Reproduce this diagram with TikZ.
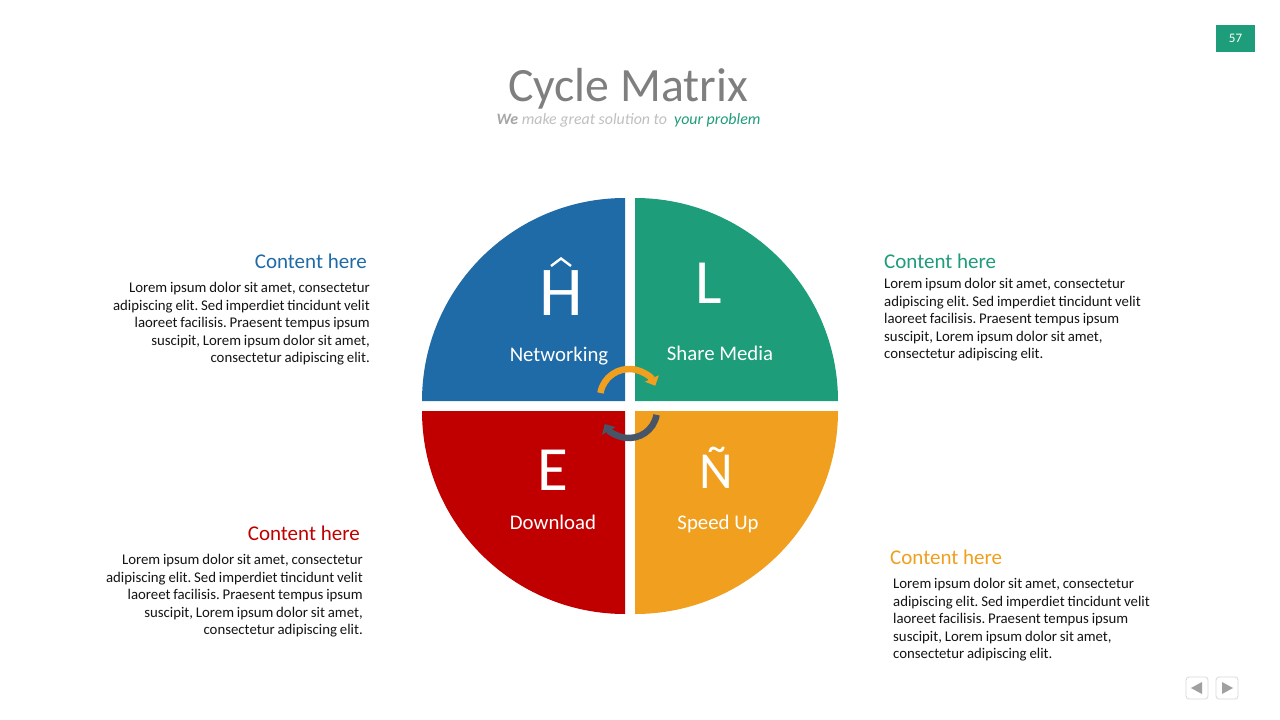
\documentclass[tikz,border=0pt]{standalone}
\usepackage{fontspec}
\setmainfont{Carlito}
\usetikzlibrary{arrows.meta}
\frenchspacing
\definecolor{cblue}{RGB}{30,107,167}
\definecolor{cgreen}{RGB}{30,157,122}
\definecolor{cred}{RGB}{192,0,0}
\definecolor{corange}{RGB}{240,160,30}
\definecolor{carrow}{RGB}{72,84,104}
\definecolor{ctitle}{RGB}{127,127,127}
\definecolor{csub}{RGB}{191,191,191}
\definecolor{cwe}{RGB}{166,166,166}
\definecolor{cbody}{RGB}{20,20,20}
\definecolor{cnav}{RGB}{217,217,217}
\definecolor{cnavtri}{RGB}{160,160,160}
\newcommand{\mybodyfont}{\fontsize{14.8}{17.55}\selectfont\frenchspacing\spaceskip=0.19em plus 0.1em minus 0.05em\relax}
\tikzset{
  heading/.style={inner sep=0pt, font=\fontsize{21}{25}\selectfont},
  bodytxt/.style={inner sep=0pt, text=cbody, font=\mybodyfont},
  qlabel/.style={inner sep=0pt, text=white, font=\fontsize{20.8}{24}\selectfont, anchor=base},
  icon/.style={inner sep=0pt, text=white, anchor=base},
  cyc/.style={line width=6.5pt, -{Triangle[length=8pt,width=15pt]}},
  navbox/.style={draw=cnav, line width=0.8pt, rounded corners=3pt, minimum size=22pt, inner sep=0pt},
}
\begin{document}
\begin{tikzpicture}[x=1pt,y=-1pt]
\useasboundingbox (0,0) rectangle (1280,720);
\fill[white] (0,0) rectangle (1280,720);
% page number
\node[fill=cgreen, text=white, minimum width=39pt, minimum height=27pt, inner sep=0pt, font=\fontsize{13}{15}\selectfont] (pnum) at (1235.5,38.5) {57};
% title
\node[anchor=base, inner sep=0pt, text=ctitle, font=\fontsize{47.8}{52}\selectfont] (title) at (628,101) {Cycle Matrix};
\node[anchor=base, inner sep=0pt, font=\fontsize{15.9}{18}\selectfont\itshape] (subtitle) at (628.5,124)
  {\textcolor{cwe}{\bfseries We} \textcolor{csub}{make great solution to}\ \ \textcolor{cgreen}{your problem}};
% quadrants
\fill[cblue] (625,401) -- ++(-203,0) arc[start angle=180,end angle=270,radius=203] -- cycle;
\fill[cgreen] (635,401) -- ++(0,-203) arc[start angle=270,end angle=360,radius=203] -- cycle;
\fill[cred] (625,411) -- ++(0,203) arc[start angle=90,end angle=180,radius=203] -- cycle;
\fill[corange] (635,411) -- ++(203,0) arc[start angle=0,end angle=90,radius=203] -- cycle;
% icons
\node[icon, font=\fontsize{70}{70}\selectfont] (iconH) at (561,315) {H};
\draw[white, line width=2.4pt, line join=miter] ([shift={(-10,-49)}]iconH.base) -- ([shift={(0,-56.5)}]iconH.base) -- ([shift={(10,-49)}]iconH.base);
\node[icon, font=\fontsize{63}{63}\selectfont] (iconL) at (709,303) {L};
\node[icon, font=\fontsize{63}{63}\selectfont] (iconE) at (553,490) {E};
\node[icon, font=\fontsize{52}{52}\selectfont] (iconN) at (716,488) {Ñ};
% labels
\node[qlabel] (lnet) at (559,361) {Networking};
\node[qlabel] (lshare) at (720,360) {Share Media};
\node[qlabel] (ldown) at (553,529) {Download};
\node[qlabel] (lspeed) at (718,529) {Speed Up};
% cycle arrows
\coordinate (oc) at (629,398);
\coordinate (gc) at (629,410);
\draw[cyc, draw=corange, color=corange] ([shift={(-170:29)}]oc) arc[start angle=-170,end angle=-25,radius=29];
\draw[cyc, draw=carrow, color=carrow] ([shift={(10:28)}]gc) arc[start angle=10,end angle=150,radius=28];
% text blocks
\node[heading, text=cblue, anchor=base east] (h1) at (367,268) {Content here};
\node[bodytxt, anchor=north east, align=right] (b1) at (370,282)
 {Lorem ipsum dolor sit amet, consectetur\\adipiscing elit. Sed imperdiet tincidunt velit\\laoreet facilisis. Praesent tempus ipsum\\suscipit, Lorem ipsum dolor sit amet,\\consectetur adipiscing elit.};
\node[heading, text=cgreen, anchor=base west] (h2) at (884,268) {Content here};
\node[bodytxt, anchor=north west, align=left] (b2) at (884,278)
 {Lorem ipsum dolor sit amet, consectetur\\adipiscing elit. Sed imperdiet tincidunt velit\\laoreet facilisis. Praesent tempus ipsum\\suscipit, Lorem ipsum dolor sit amet,\\consectetur adipiscing elit.};
\node[heading, text=cred, anchor=base east] (h3) at (360,540) {Content here};
\node[bodytxt, anchor=north east, align=right] (b3) at (363,554)
 {Lorem ipsum dolor sit amet, consectetur\\adipiscing elit. Sed imperdiet tincidunt velit\\laoreet facilisis. Praesent tempus ipsum\\suscipit, Lorem ipsum dolor sit amet,\\consectetur adipiscing elit.};
\node[heading, text=corange, anchor=base west] (h4) at (890,564) {Content here};
\node[bodytxt, anchor=north west, align=left] (b4) at (893,578)
 {Lorem ipsum dolor sit amet, consectetur\\adipiscing elit. Sed imperdiet tincidunt velit\\laoreet facilisis. Praesent tempus ipsum\\suscipit, Lorem ipsum dolor sit amet,\\consectetur adipiscing elit.};
% nav buttons
\node[navbox] (navL) at (1197,688) {};
\node[navbox] (navR) at (1227,688) {};
\fill[cnavtri] ([xshift=-6pt]navL.center) -- ++(11,-6) -- ++(0,12) -- cycle;
\fill[cnavtri] ([xshift=6pt]navR.center) -- ++(-11,-6) -- ++(0,12) -- cycle;
\end{tikzpicture}
\end{document}
